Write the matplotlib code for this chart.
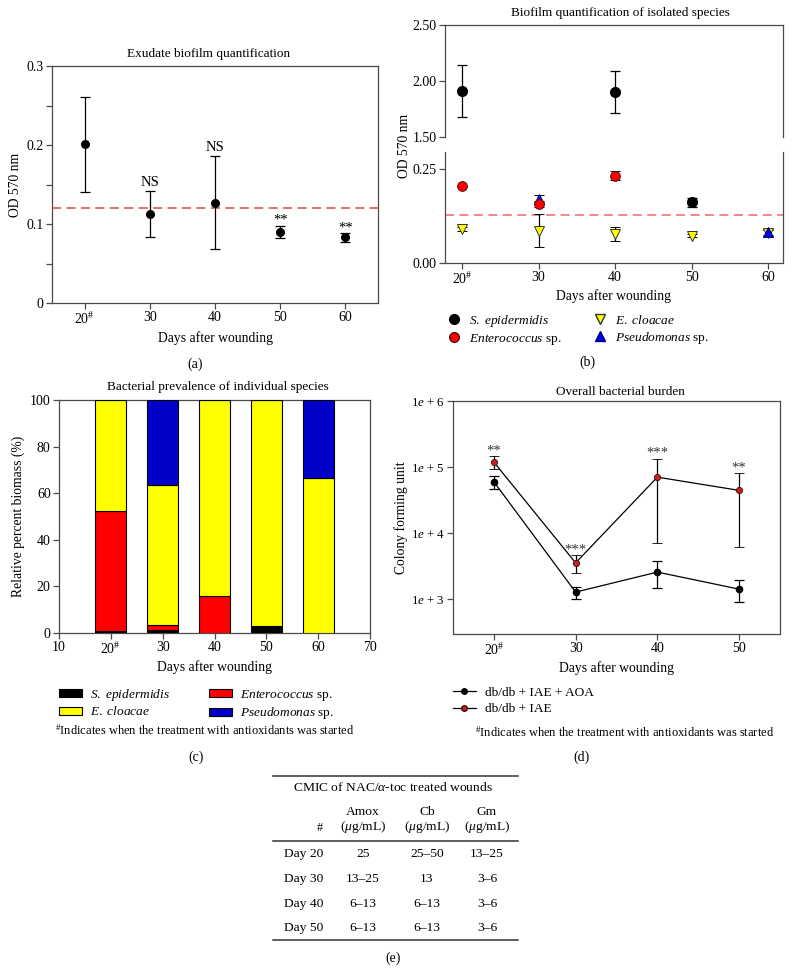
import matplotlib
matplotlib.use('Agg')
import matplotlib.pyplot as plt
import numpy as np
from matplotlib.lines import Line2D
from matplotlib.patches import Patch
from matplotlib.ticker import FixedLocator, NullLocator

plt.rcParams['font.family'] = ['Liberation Serif', 'DejaVu Serif']
plt.rcParams['mathtext.fontset'] = 'custom'
plt.rcParams['mathtext.rm'] = 'Liberation Serif'
plt.rcParams['mathtext.it'] = 'Liberation Serif:italic'
plt.rcParams['mathtext.bf'] = 'Liberation Serif:bold'
plt.rcParams['font.size'] = 9

# ---------------- data ----------------
days = [20, 30, 40, 50, 60]
day_labels = [r'20$^{\#}$', '30', '40', '50', '60']

# (a) exudate biofilm
exudate_mean = [0.201, 0.113, 0.127, 0.090, 0.083]
exudate_err = [0.060, 0.029, 0.059, 0.008, 0.006]
exudate_sig = ['', 'NS', 'NS', '**', '**']
exudate_threshold = 0.12

# (b) isolated species biofilm
sepi_days = [20, 40, 50]
sepi_od = [1.91, 1.90, 0.162]
sepi_err = [0.235, 0.185, 0.012]
ent_days = [20, 30, 40]
ent_od = [0.205, 0.156, 0.232]
ent_err = [0.0, 0.008, 0.012]
clo_days = [20, 30, 40, 50, 60]
clo_od = [0.090, 0.086, 0.077, 0.072, 0.080]
clo_err = [0.005, 0.044, 0.018, 0.004, 0.008]
pse_days = [30, 60]
pse_od = [0.171, 0.083]
pse_err = [0.010, 0.008]
species_threshold = 0.128

# (c) relative biomass (%)
bar_days = [20, 30, 40, 50, 60]
pct_sepi = [0.8, 1.2, 0.0, 3.2, 0.0]
pct_ent = [51.5, 2.1, 15.8, 0.0, 0.0]
pct_clo = [47.7, 60.4, 84.2, 96.8, 66.7]
pct_pse = [0.0, 36.3, 0.0, 0.0, 33.3]

# (d) overall bacterial burden
cfu_days = [20, 30, 40, 50]
cfu_day_labels = [r'20$^{\#}$', '30', '40', '50']
cfu_aoa = [6.0e4, 1.29e3, 2.59e3, 1.43e3]
cfu_aoa_lo = [4.6e4, 1.0e3, 1.48e3, 9.0e2]
cfu_aoa_hi = [7.4e4, 1.55e3, 3.8e3, 1.95e3]
cfu_iae = [1.19e5, 3.57e3, 7.06e4, 4.45e4]
cfu_iae_lo = [9.3e4, 2.5e3, 7.2e3, 6.1e3]
cfu_iae_hi = [1.45e5, 4.65e3, 1.35e5, 8.2e4]
cfu_sig = ['**', '***', '***', '**']

# (e) table
table_title = r'CMIC of NAC/$\it{\alpha}$-toc treated wounds'
table_cols = ['Amox', 'Cb', 'Gm']
table_unit = r'($\it{\mu}$g/mL)'
table_rows = ['Day 20', 'Day 30', 'Day 40', 'Day 50']
amox = ['25', '13–25', '6–13', '6–13']
cb = ['25–50', '13', '6–13', '6–13']
gm = ['13–25', '3–6', '3–6', '3–6']

# ---------------- layout helpers ----------------
W, H = 792, 972
fig = plt.figure(figsize=(W / 100, H / 100), dpi=100)


def rect(l, t, r, b):
    return [l / W, 1 - b / H, (r - l) / W, (b - t) / H]


SPINE = '#4a4a4a'
FS = 9.5
TICKFS = 10
LEGFS = 9.6


def style(ax, spines=('left', 'bottom', 'right', 'top')):
    for s in ['left', 'bottom', 'right', 'top']:
        ax.spines[s].set_visible(s in spines)
        ax.spines[s].set_color(SPINE)
        ax.spines[s].set_linewidth(0.9)
    ax.tick_params(which='both', direction='out', length=4, width=0.9, color=SPINE,
                   labelsize=TICKFS, top=False, right=False, pad=2)


def xlabel_at(ax, text, px_below, ax_h):
    ax.set_xlabel(text, fontsize=FS + 0.3, va='center')
    ax.xaxis.set_label_coords(0.5, -px_below / ax_h)


def ylabel_at(ax, text, px_left, ax_w):
    ax.set_ylabel(text, fontsize=FS + 0.3, va='center')
    ax.yaxis.set_label_coords(-px_left / ax_w, 0.5)


# ---------------- (a) ----------------
axa = fig.add_axes(rect(52, 66, 378, 303))
style(axa)
axa.errorbar(days, exudate_mean, yerr=exudate_err, fmt='o', color='black', ms=5.5,
             ecolor='black', elinewidth=0.9, capsize=3.5, capthick=0.9, zorder=3)
axa.axhline(exudate_threshold, color='#e06464', ls=(0, (5, 3)), lw=1.3, zorder=2)
for d, m, e, s in zip(days, exudate_mean, exudate_err, exudate_sig):
    if s:
        axa.annotate(s, xy=(d, m + e), xytext=(0, 1.5 if s == 'NS' else -1),
                     textcoords='offset points', ha='center', va='bottom', fontsize=10.5)
axa.set_xlim(15, 65)
axa.set_ylim(0, 0.3)
axa.set_xticks(days)
axa.set_xticklabels(day_labels)
axa.set_yticks([0, 0.1, 0.2, 0.3])
axa.set_yticklabels(['0', '0.1', '0.2', '0.3'])
axa.yaxis.set_minor_locator(FixedLocator([0.05, 0.15, 0.25]))
ylabel_at(axa, 'OD 570 nm', 37, 326)
xlabel_at(axa, 'Days after wounding', 35, 237)

# ---------------- (b) broken axis ----------------
axbt = fig.add_axes(rect(445, 25, 783, 137))
axbb = fig.add_axes(rect(445, 152, 783, 263))
style(axbt, spines=('left', 'right', 'top'))
style(axbb, spines=('left', 'right', 'bottom'))
axbt.tick_params(axis='x', which='both', bottom=False, labelbottom=False)

ebk = dict(ecolor='black', elinewidth=0.9, capsize=3.5, capthick=0.9, ls='none')
for ax in (axbt, axbb):
    ax.errorbar(clo_days, clo_od, yerr=clo_err, marker='v', mfc='#ffff00', mec='#333333',
                mew=0.7, ms=7.5, zorder=3, **ebk)
    ax.errorbar(pse_days, pse_od, yerr=pse_err, marker='^', mfc='#0000e0', mec='#000080',
                mew=0.7, ms=7, zorder=3, **ebk)
    ax.errorbar(ent_days, ent_od, yerr=ent_err, marker='o', mfc='#ff0000', mec='#551111',
                mew=0.7, ms=7, zorder=4, **ebk)
    ax.errorbar(sepi_days, sepi_od, yerr=sepi_err, marker='o', mfc='black', mec='black',
                ms=7, zorder=4, **ebk)
    ax.set_xlim(17.8, 61.9)
axbb.axhline(species_threshold, color='#f08080', ls=(0, (5, 3)), lw=1.3, zorder=2)
axbt.set_ylim(1.5, 2.5)
axbt.set_yticks([1.5, 2.0, 2.5])
axbt.set_yticklabels(['1.50', '2.00', '2.50'])
axbb.set_ylim(0, 0.295)
axbb.set_yticks([0, 0.25])
axbb.set_yticklabels(['0.00', '0.25'])
axbb.set_xticks(days)
axbb.set_xticklabels(day_labels)
xlabel_at(axbb, 'Days after wounding', 33, 111)

b_handles = [
    Line2D([], [], ls='', marker='o', mfc='black', mec='black', ms=7),
    Line2D([], [], ls='', marker='o', mfc='#ff0000', mec='#551111', ms=7),
    Line2D([], [], ls='', marker='v', mfc='#ffff00', mec='#333333', ms=7.5),
    Line2D([], [], ls='', marker='^', mfc='#0000e0', mec='#000080', ms=7),
]
b_labels = [r'$\it{S.\ epidermidis}$', r'$\it{Enterococcus}$ sp.',
            r'$\it{E.\ cloacae}$', r'$\it{Pseudomonas}$ sp.']
fig.legend(b_handles, b_labels, loc='center left', bbox_to_anchor=(446 / W, 1 - 330 / H),
           ncol=2, frameon=False, handletextpad=0.5, columnspacing=2.3, labelspacing=0.2,
           borderpad=0, borderaxespad=0, handlelength=1.2, fontsize=LEGFS)

# ---------------- (c) stacked bars ----------------
axc = fig.add_axes(rect(59, 400, 370, 633))
style(axc)
bottoms = np.zeros(len(bar_days))
for vals, col in [(pct_sepi, '#000000'), (pct_ent, '#ff0000'),
                  (pct_clo, '#ffff00'), (pct_pse, '#0000c8')]:
    v = np.array(vals)
    axc.bar(bar_days, v, width=6, bottom=bottoms, color=col, edgecolor='black',
            linewidth=0.8, zorder=3)
    bottoms = bottoms + v
axc.set_xlim(10, 70)
axc.set_ylim(0, 100)
axc.set_xticks([10, 20, 30, 40, 50, 60, 70])
axc.set_xticklabels(['10', r'20$^{\#}$', '30', '40', '50', '60', '70'])
axc.set_yticks([0, 20, 40, 60, 80, 100])
ylabel_at(axc, 'Relative percent biomass (%)', 41, 311)
xlabel_at(axc, 'Days after wounding', 34, 233)

c_handles = [Patch(fc='#000000', ec='black', lw=0.8), Patch(fc='#ffff00', ec='black', lw=0.8),
             Patch(fc='#ff0000', ec='black', lw=0.8), Patch(fc='#0000c8', ec='black', lw=0.8)]
c_labels = [r'$\it{S.\ epidermidis}$', r'$\it{E.\ cloacae}$',
            r'$\it{Enterococcus}$ sp.', r'$\it{Pseudomonas}$ sp.']
fig.legend(c_handles, c_labels, loc='center left', bbox_to_anchor=(59 / W, 1 - 704 / H),
           ncol=2, frameon=False, handletextpad=0.6, columnspacing=2.9, labelspacing=0.2,
           borderpad=0, borderaxespad=0, handlelength=1.75, handleheight=0.55,
           fontsize=LEGFS)

# ---------------- (d) log line ----------------
axd = fig.add_axes(rect(453, 401, 780, 634))
style(axd)
axd.set_yscale('log')
aoa = np.array(cfu_aoa)
iae = np.array(cfu_iae)
axd.errorbar(cfu_days, aoa, yerr=[aoa - np.array(cfu_aoa_lo), np.array(cfu_aoa_hi) - aoa],
             fmt='-o', color='black', mfc='black', mec='black', ms=4.5, lw=0.9,
             ecolor='black', elinewidth=0.9, capsize=3.5, capthick=0.9, zorder=3)
axd.errorbar(cfu_days, iae, yerr=[iae - np.array(cfu_iae_lo), np.array(cfu_iae_hi) - iae],
             fmt='-o', color='black', mfc='#cc1f1f', mec='#331111', mew=0.6, ms=4.5, lw=0.9,
             ecolor='black', elinewidth=0.9, capsize=3.5, capthick=0.9, zorder=4)
for d, hi, s in zip(cfu_days, cfu_iae_hi, cfu_sig):
    axd.annotate(s, xy=(d, hi), xytext=(0, -1), textcoords='offset points',
                 ha='center', va='bottom', fontsize=10.5, color='#333333')
axd.set_xlim(15, 55)
axd.set_ylim(300, 1e6)
axd.set_xticks(cfu_days)
axd.set_xticklabels(cfu_day_labels)
axd.yaxis.set_major_locator(FixedLocator([1e3, 1e4, 1e5, 1e6]))
axd.yaxis.set_minor_locator(NullLocator())
axd.set_yticklabels([r'1$e$ + 3', r'1$e$ + 4', r'1$e$ + 5', r'1$e$ + 6'])
axd.tick_params(axis='y', labelsize=9.3)
ylabel_at(axd, 'Colony forming unit', 52, 327)
xlabel_at(axd, 'Days after wounding', 34, 233)

d_handles = [Line2D([], [], color='black', lw=0.9, marker='o', mfc='black', mec='black', ms=4),
             Line2D([], [], color='black', lw=0.9, marker='o', mfc='#cc1f1f', mec='#331111', ms=4)]
d_labels = ['db/db + IAE + AOA', 'db/db + IAE']
fig.legend(d_handles, d_labels, loc='center left', bbox_to_anchor=(453 / W, 1 - 701 / H),
           ncol=1, frameon=False, handletextpad=0.7, labelspacing=0.3,
           borderpad=0, borderaxespad=0, handlelength=1.7, fontsize=LEGFS)

# ---------------- overlay for figure texts and table ----------------
ov = fig.add_axes([0, 0, 1, 1])
ov.set_xlim(0, W)
ov.set_ylim(H, 0)
ov.axis('off')

TTL = FS
ov.text(209, 54, 'Exudate biofilm quantification', ha='center', va='center', fontsize=TTL)
ov.text(620, 13, 'Biofilm quantification of isolated species', ha='center', va='center', fontsize=TTL)
ov.text(218, 387, 'Bacterial prevalence of individual species', ha='center', va='center', fontsize=TTL)
ov.text(620, 392, 'Overall bacterial burden', ha='center', va='center', fontsize=TTL)
ov.text(404, 146, 'OD 570 nm', ha='center', va='center', rotation=90, fontsize=FS + 0.3)

foot = r'$^{\#}$Indicates when the treatment with antioxidants was started'
ov.text(205, 730, foot, ha='center', va='center', fontsize=9)
ov.text(625, 732, foot, ha='center', va='center', fontsize=9)

for lab, x, y in [('(a)', 195, 364), ('(b)', 587, 362), ('(c)', 196, 757),
                  ('(d)', 582, 757), ('(e)', 393, 958)]:
    ov.text(x, y, lab, ha='center', va='center', fontsize=FS + 0.5)

# table
tx0, tx1 = 273, 518
rule_kw = dict(color='#333333', lw=1.1)
ov.plot([tx0, tx1], [776, 776], **rule_kw)
ov.plot([tx0, tx1], [841, 841], **rule_kw)
ov.plot([tx0, tx1], [940, 940], **rule_kw)
TFS = 9.7
ov.text(393, 787, table_title, ha='center', va='center', fontsize=TFS)
col_x = [363, 427, 487]
row_label_x = 323
for cx, name in zip(col_x, table_cols):
    ov.text(cx, 812, name, ha='center', va='center', fontsize=TFS)
    ov.text(cx, 827, table_unit, ha='center', va='center', fontsize=TFS)
ov.text(row_label_x, 828, '#', ha='right', va='center', fontsize=TFS - 1)
row_y0, row_dy = 854, 24.8
for i, (rl, a_, c_, g_) in enumerate(zip(table_rows, amox, cb, gm)):
    y = row_y0 + i * row_dy
    ov.text(row_label_x, y, rl, ha='right', va='center', fontsize=TFS)
    for cx, val in zip(col_x, [a_, c_, g_]):
        ov.text(cx, y, val, ha='center', va='center', fontsize=TFS)

fig.savefig('out.png', dpi=100)
